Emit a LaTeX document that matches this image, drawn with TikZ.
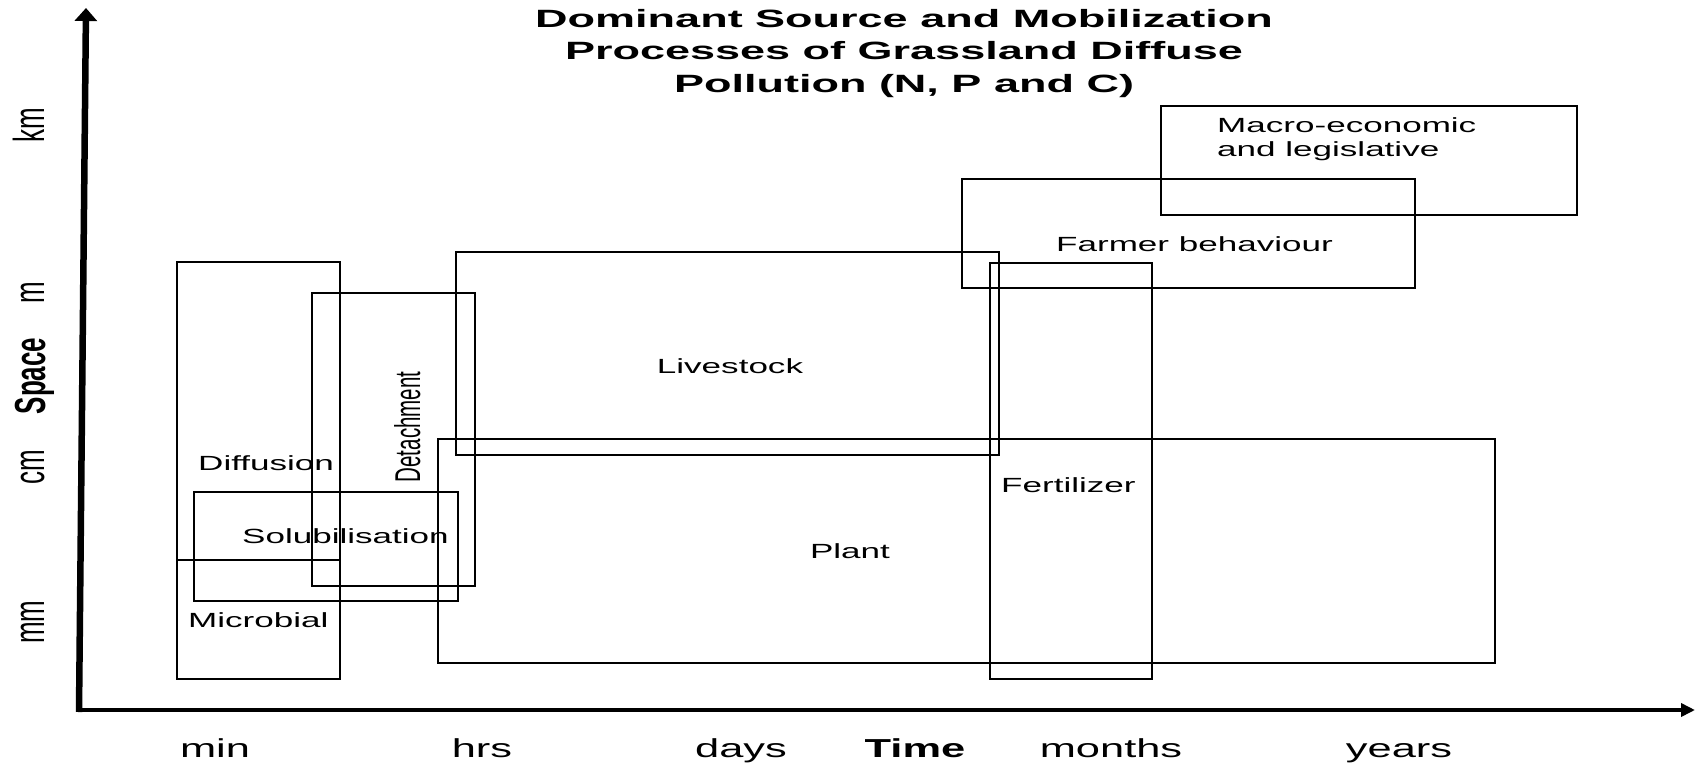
\documentclass[tikz,border=0pt]{standalone}
\usepackage{fontspec}
\setmainfont{Liberation Sans}
\usepackage{graphicx}
\usetikzlibrary{arrows.meta}

% horizontally widened text, and text widened across its glyph height (for rotated labels)
\newcommand{\widetext}[2]{\scalebox{#1}[1]{#2}}
\newcommand{\talltext}[2]{\scalebox{1}[#1]{#2}}

\tikzset{
  box/.style={draw=black, line width=2.1pt},
  boxlabel/.style={inner sep=0pt, font=\fontsize{20.5}{24}\selectfont},
  axislabel/.style={inner sep=0pt, font=\fontsize{26}{30}\selectfont},
  titleline/.style={inner sep=0pt, font=\fontsize{25}{31}\selectfont\bfseries},
}

\begin{document}
\begin{tikzpicture}[x=1pt, y=-1pt]
\useasboundingbox (0,0) rectangle (1695,763);

% axes
\coordinate (origin) at (79,710);
\coordinate (ytop) at (86,8);
\coordinate (xstart) at (76,710);
\coordinate (xend) at (1695,710);
\draw[line width=6.5pt, -{Triangle[length=13pt,width=22pt]}] (79,712) -- (ytop);
\draw[line width=3.5pt, -{Triangle[length=14pt,width=13pt]}] (xstart) -- (xend);

% process boxes
\draw[box] (177,262) rectangle (340,560);   % diffusion
\draw[box] (177,560) rectangle (340,679);   % microbial
\draw[box] (194,492) rectangle (458,601);   % solubilisation
\draw[box] (312,293) rectangle (475,586);   % detachment
\draw[box] (456,252) rectangle (999,455);   % livestock
\draw[box] (438,439) rectangle (1495,663);  % plant
\draw[box] (990,263) rectangle (1152,679);  % fertilizer
\draw[box] (962,179) rectangle (1415,288);  % farmer behaviour
\draw[box] (1161,106) rectangle (1577,215); % macro-economic

% title
\node[titleline, anchor=base] (t1) at (904,27) {\widetext{1.8}{Dominant Source and Mobilization}};
\node[titleline, anchor=base] (t2) at (904,59.5) {\widetext{1.8}{Processes of Grassland Diffuse}};
\node[titleline, anchor=base] (t3) at (904,92) {\widetext{1.8}{Pollution (N, P and C)}};

% box labels
\node[boxlabel, anchor=base west] (macro1) at (1217,132) {\widetext{1.71}{Macro-economic}};
\node[boxlabel, anchor=base west] (macro2) at (1217,156) {\widetext{1.71}{and legislative}};
\node[boxlabel, anchor=base west] (farmer) at (1056,251) {\widetext{1.71}{Farmer behaviour}};
\node[boxlabel, anchor=base] (livestock) at (730,373) {\widetext{1.71}{Livestock}};
\node[boxlabel, anchor=base] (plant) at (850,558) {\widetext{1.71}{Plant}};
\node[boxlabel, anchor=base west] (fert) at (1001,492) {\widetext{1.71}{Fertilizer}};
\node[boxlabel, anchor=base west] (diff) at (198,470) {\widetext{1.71}{Diffusion}};
\node[boxlabel, anchor=base west] (solub) at (242,543) {\widetext{1.71}{Solubilisation}};
\node[boxlabel, anchor=base west] (micro) at (188,627) {\widetext{1.71}{Microbial}};
\node[boxlabel, anchor=base, rotate=90] (detach) at (420,427) {\talltext{1.75}{Detachment}};

% space axis labels
\node[axislabel, anchor=base, rotate=90] (km) at (44,125) {\talltext{1.67}{km}};
\node[axislabel, anchor=base, rotate=90] (mlab) at (44,293) {\talltext{1.67}{m}};
\node[axislabel, anchor=base, rotate=90, font=\fontsize{26}{30}\selectfont\bfseries] (space) at (45,376) {\talltext{1.67}{Space}};
\node[axislabel, anchor=base, rotate=90] (cm) at (44,467) {\talltext{1.67}{cm}};
\node[axislabel, anchor=base, rotate=90] (mm) at (44,622) {\talltext{1.67}{mm}};

% time axis labels
\node[axislabel, anchor=base] (min) at (215,757) {\widetext{1.67}{min}};
\node[axislabel, anchor=base] (hrs) at (482,757) {\widetext{1.67}{hrs}};
\node[axislabel, anchor=base] (days) at (741,757) {\widetext{1.67}{days}};
\node[axislabel, anchor=base, font=\fontsize{26}{30}\selectfont\bfseries] (time) at (915,757) {\widetext{1.67}{Time}};
\node[axislabel, anchor=base] (months) at (1111,757) {\widetext{1.67}{months}};
\node[axislabel, anchor=base] (years) at (1399,757) {\widetext{1.67}{years}};
\end{tikzpicture}
\end{document}
